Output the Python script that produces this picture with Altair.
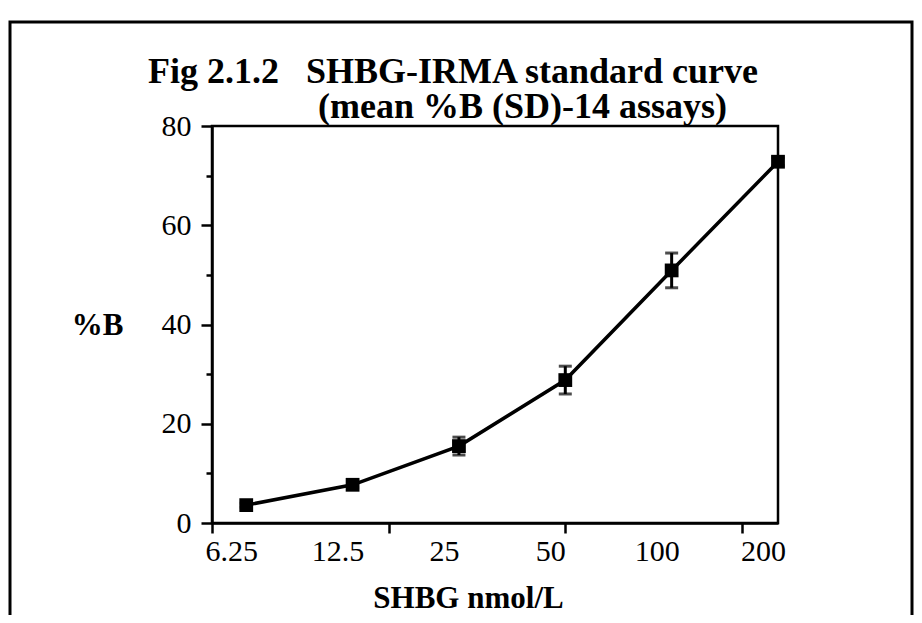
import altair as alt
import pandas as pd

# ---- data ----
conc = [6.25, 12.5, 25, 50, 100, 200]          # SHBG nmol/L
mean_b = [3.6, 7.7, 15.5, 28.8, 50.9, 72.8]      # mean %B
sd_b = [0.4, 0.6, 1.8, 2.8, 3.5, 0.8]            # SD

x_label_values = [6.25, 12.5, 25, 50, 100, 200]
x_tick_values = [5, 15.81, 50, 158.1]
y_tick_values = [0, 10, 20, 30, 40, 50, 60, 70, 80]

title_line1 = "Fig 2.1.2\u00a0\u00a0\u00a0SHBG-IRMA standard curve"
title_line2 = "(mean %B (SD)-14 assays)"

df = pd.DataFrame({"conc": conc, "mean": mean_b, "sd": sd_b})
df["lo"] = df["mean"] - df["sd"]
df["hi"] = df["mean"] + df["sd"]

FONT = "Liberation Serif"

all_x_values = sorted(set(x_label_values + x_tick_values))
lab_arr = "[" + ",".join(str(v) for v in x_label_values) + "]"
tick_arr = "[" + ",".join(str(v) for v in x_tick_values) + "]"

x_scale = alt.Scale(type="log", domain=[5, 200], nice=False)
y_scale = alt.Scale(domain=[0, 80], nice=False)

x_axis = alt.Axis(
    values=all_x_values,
    labelExpr=f"indexof({lab_arr}, datum.value) >= 0 ? '' + datum.value : ''",
    tickOpacity={"condition": {"test": f"indexof({tick_arr}, datum.value) >= 0", "value": 1}, "value": 0},
    tickSize=10, tickWidth=2.5, tickColor="black",
    domainColor="black", domainWidth=2.5,
    labelFont=FONT, labelFontSize=30, labelColor="black",
    labelPadding=3, labelOffset=-15, labelFlush=False, labelOverlap=False, labelBound=False,
    grid=False,
    titleFont=FONT, titleFontSize=31, titleFontWeight="bold", titleColor="black",
    titleX=256, titleY=84, titleAnchor="start", titleAlign="center", titleBaseline="alphabetic",
)

y_axis = alt.Axis(
    values=y_tick_values,
    labelExpr="datum.value % 20 === 0 ? datum.label : ''",
    tickSize={"condition": {"test": "datum.value % 20 === 0", "value": 11}, "value": 6},
    tickWidth=2.5, tickColor="black",
    domainColor="black", domainWidth=2.5,
    labelFont=FONT, labelFontSize=30, labelColor="black",
    labelPadding=10, labelFlush=False, labelOverlap=False,
    grid=False,
    titleFont=FONT, titleFontSize=31, titleFontWeight="bold", titleColor="black",
    titleAngle=0, titleX=-115, titleY=199, titleAlign="center", titleBaseline="middle",
)

X = alt.X("conc:Q", scale=x_scale, axis=x_axis, title="SHBG nmol/L")
Y = alt.Y("mean:Q", scale=y_scale, axis=y_axis, title="%B")

base = alt.Chart(df)

line = base.mark_line(color="black", strokeWidth=3.5).encode(x=X, y=Y)
pts = base.mark_square(size=190, color="black", opacity=1, filled=True).encode(x=X, y=Y)
err = base.mark_errorbar(
    ticks={"size": 13, "thickness": 3, "color": "black"},
    rule={"strokeWidth": 3, "color": "black"},
).encode(
    x=X,
    y=alt.Y("lo:Q", scale=y_scale, axis=y_axis, title="%B"),
    y2="hi:Q",
)

one = pd.DataFrame({"k": [0]})

frame = alt.Chart(one).mark_rect(
    filled=False, stroke="black", strokeWidth=3
).encode(
    x=alt.value(-202), x2=alt.value(700), y=alt.value(-104), y2=alt.value(520)
)

t1 = alt.Chart(one).mark_text(
    text=title_line1, font=FONT, fontSize=36, fontWeight="bold", color="black",
    align="left", baseline="alphabetic",
).encode(x=alt.value(-64), y=alt.value(-43))

t2 = alt.Chart(one).mark_text(
    text=title_line2, font=FONT, fontSize=36, fontWeight="bold", color="black",
    align="left", baseline="alphabetic",
).encode(x=alt.value(106), y=alt.value(-8))

chart = alt.layer(frame, t1, t2, err, line, pts).properties(
    width=566,
    height=397,
    padding={"left": 204, "top": 118, "right": 136, "bottom": 92},
    autosize=alt.AutoSizeParams(type="none"),
    background="white",
).configure_view(stroke="black", strokeWidth=2.5)

chart.save("out.html", embed_options={"renderer": "svg", "actions": False})
